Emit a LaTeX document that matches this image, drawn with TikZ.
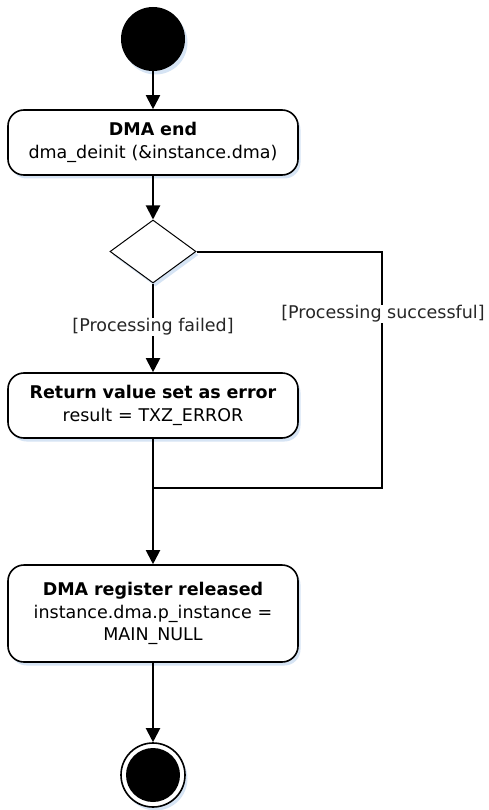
\documentclass[tikz,border=0pt]{standalone}
\usepackage{fontspec}
\setmainfont{DejaVu Sans}
\usetikzlibrary{shapes.geometric,arrows.meta,shadows}
\definecolor{shadowblue}{HTML}{D6E4F4}
\begin{document}
\begin{tikzpicture}[x=1pt,y=-1pt,
  every node/.style={font=\fontsize{17.5}{22.5}\selectfont},
  shadowed/.style={drop shadow={shadow xshift=2.5pt,shadow yshift=-3.5pt,fill=shadowblue,opacity=1}},
  actbox/.style={draw=black,line width=1.6pt,rounded corners=16pt,fill=white,shadowed,
    minimum width=290pt,text width=284pt,align=center,inner sep=0pt},
  conn/.style={line width=2pt},
  arr/.style={conn,-{Triangle[length=14pt,width=14pt]}},
  lbl/.style={fill=white,inner sep=1pt,text=black!85}
]
\useasboundingbox (0,0) rectangle (488,810);
\node[circle,fill=black,minimum size=64pt,inner sep=0pt,shadowed] (start) at (153,39) {};
\node[actbox,minimum height=65pt] (b1) at (153,142.5) {\textbf{DMA end}\\dma\_deinit (\&instance.dma)};
\node[diamond,draw=black,line width=1pt,fill=white,minimum width=86pt,minimum height=63pt,inner sep=0pt,shadowed] (dec) at (153,251.5) {};
\node[actbox,minimum height=65pt] (b2) at (153,405.5) {\textbf{Return value set as error}\\result = TXZ\_ERROR};
\node[actbox,minimum height=97pt] (b3) at (153,613.5) {\textbf{DMA register released}\\instance.dma.p\_instance =\\MAIN\_NULL};
\node[circle,draw=black,line width=1.6pt,fill=white,minimum size=64pt,inner sep=0pt,shadowed] (endo) at (153,775) {};
\node[circle,fill=black,minimum size=54pt,inner sep=0pt] (endi) at (153,775) {};
\coordinate (m) at (153,488);
\coordinate (r1) at (382,251.5);
\coordinate (r2) at (382,488);
\draw[arr] (start) -- (b1);
\draw[arr] (b1) -- (dec);
\draw[arr] (dec) -- (b2);
\node[lbl] (lf) at (153,327) {[Processing failed]};
\draw[conn] (b2) -- (m);
\draw[conn] (dec.east) -- (r1) -- (r2) -- (m);
\node[lbl] (ls) at (383,314) {[Processing successful]};
\draw[arr] (m) -- (b3);
\draw[arr] (b3) -- (endo);
\end{tikzpicture}
\end{document}
